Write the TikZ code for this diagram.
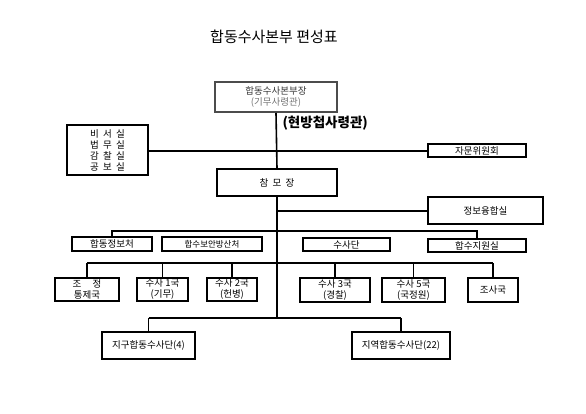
\documentclass[tikz,border=0pt]{standalone}
\usepackage{fontspec}
\setmainfont{Noto Sans CJK KR}
\begin{document}
\begin{tikzpicture}[x=1pt,y=-1pt,
  box/.style={draw=black, line width=1.1pt, inner sep=0pt, align=center, font=\fontsize{9.5}{11}\selectfont},
  wire/.style={line width=1.6pt, black},
  topbox/.style={draw=gray!60!black, line width=2pt, inner sep=0pt, align=center, fill=white}]
\useasboundingbox (0,0) rectangle (586,414);
\fill[white] (0,0) rectangle (586,414);
% title
\node[font=\fontsize{15}{17}\selectfont] (title) at (274,37) {합동수사본부 편성표};
% top box
\node[topbox, minimum width=122pt, minimum height=30pt] (hq) at (276,97)
  {{\fontsize{9.5}{11}\selectfont\color{black!80}합동수사본부장}\\[-1pt]{\fontsize{9.5}{11}\selectfont\color{black!55}(기무사령관)}};
\node[font=\fontsize{13.5}{15}\bfseries\selectfont, anchor=west] (note) at (279,123) {(현방첩사령관)};
% side boxes
\node[box, minimum width=81pt, minimum height=50pt] (sec) at (107.5,150)
  {비\hspace{0.45em}서\hspace{0.45em}실\\법\hspace{0.45em}무\hspace{0.45em}실\\감\hspace{0.45em}찰\hspace{0.45em}실\\공\hspace{0.45em}보\hspace{0.45em}실};
\node[box, minimum width=98pt, minimum height=13pt] (adv) at (477,150.5) {자문위원회};
\node[box, minimum width=120pt, minimum height=27pt] (chief) at (277,182.5) {참\hspace{0.45em}모\hspace{0.45em}장};
\node[box, minimum width=115pt, minimum height=27pt] (fusion) at (485.5,210.5) {정보융합실};
% level 2
\node[box, minimum width=80pt, minimum height=14pt] (intel) at (112,244) {합동정보처};
\node[box, minimum width=100pt, minimum height=14pt, font=\fontsize{8.5}{10}\selectfont] (secur) at (212,244) {합수보안방산처};
\node[box, minimum width=87pt, minimum height=13pt] (invgrp) at (346.5,244.5) {수사단};
\node[box, minimum width=98pt, minimum height=13pt] (support) at (477,245.5) {합수지원실};
% level 3
\node[box, minimum width=64pt, minimum height=23pt] (coord) at (87,289.5) {조\hspace{1.2em}정\\통제국};
\node[box, minimum width=51pt, minimum height=23pt] (inv1) at (162.5,289.5) {수사 1국\\(기무)};
\node[box, minimum width=50pt, minimum height=23pt] (inv2) at (232,289.5) {수사 2국\\(헌병)};
\node[box, minimum width=70pt, minimum height=24pt] (inv3) at (335,290) {수사 3국\\(경찰)};
\node[box, minimum width=63pt, minimum height=24pt] (inv5) at (413.5,290) {수사 5국\\(국정원)};
\node[box, minimum width=50pt, minimum height=24pt] (probe) at (493,290) {조사국};
% level 4
\node[box, minimum width=93pt, minimum height=27pt] (dist) at (148.5,345.5) {지구합동수사단(4)};
\node[box, minimum width=98pt, minimum height=27pt] (reg) at (401,345.5) {지역합동수사단(22)};
% junctions
\coordinate (jTop) at (277,151);
\coordinate (jFus) at (277,211);
\coordinate (b2) at (277,231);
\coordinate (b3) at (277,263);
\coordinate (b4) at (277,318);
% connectors
\draw[wire] (hq.south) -- (chief.north);
\draw[wire] (sec.east |- jTop) -- (adv.west |- jTop);
\draw[wire] (chief.south) -- (b4);
\draw[wire] (jFus) -- (fusion.west |- jFus);
\draw[wire] (intel.north) -- (intel.north |- b2) -- (support.north |- b2) -- (support.north);
\draw[wire] (coord.north |- b3) -- (probe.north |- b3);
\foreach \n in {coord,inv1,inv2,inv3,inv5,probe} \draw[wire] (\n.north |- b3) -- (\n.north);
\draw[wire] (dist.north |- b4) -- (reg.north |- b4);
\draw[wire] (dist.north |- b4) -- (dist.north);
\draw[wire] (reg.north |- b4) -- (reg.north);
\end{tikzpicture}
\end{document}
